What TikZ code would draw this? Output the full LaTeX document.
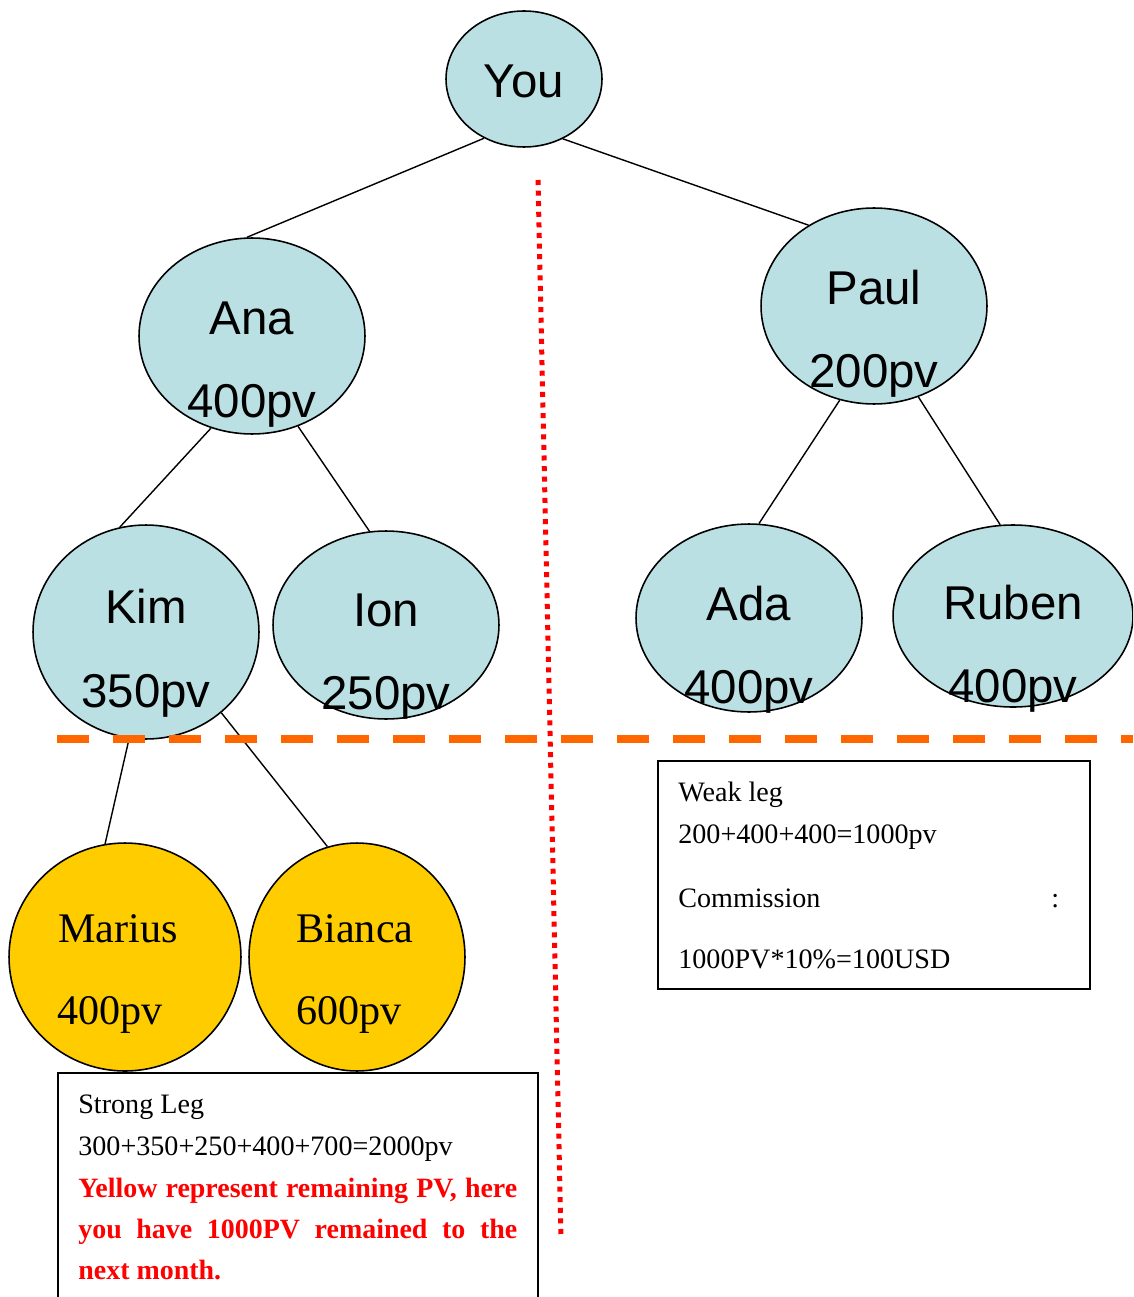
\documentclass[tikz,border=0pt]{standalone}
\usepackage{fontspec}
\setmainfont{Liberation Serif}
\newfontfamily\arialfont{Liberation Sans}
\usepackage{xcolor}
\usepackage{tikz}
\usetikzlibrary{shapes.geometric}
\definecolor{mlmblue}{HTML}{BBE0E3}
\definecolor{mlmgold}{HTML}{FFCC00}
\definecolor{mlmorange}{HTML}{FF6600}
\definecolor{mlmred}{HTML}{FF0000}
\tikzset{
  member/.style={ellipse,draw=black,line width=0.9pt,fill=mlmblue,inner sep=0pt},
  leftover/.style={member,fill=mlmgold},
  treetxt/.style={anchor=base,inner sep=0pt,font=\arialfont\fontsize{27}{32}\selectfont},
  goldtxt/.style={anchor=base west,inner sep=0pt,font=\fontsize{24}{28}\selectfont},
  boxtxt/.style={anchor=base west,inner sep=0pt,font=\fontsize{16}{19}\selectfont},
  legbox/.style={draw=black,line width=1.1pt,anchor=north west,inner sep=0pt},
  link/.style={draw=black,line width=0.8pt}
}

\begin{document}
\begin{tikzpicture}[x=0.02cm,y=-0.02cm]
\clip (0,0) rectangle (1133,1297);
% the tree
\node[member,minimum width=3.12cm,minimum height=2.72cm] (you) at (524,79) {};
\node[member,minimum width=4.52cm,minimum height=3.92cm] (ana) at (252,336) {};
\node[member,minimum width=4.52cm,minimum height=3.92cm] (paul) at (874,306) {};
\node[member,minimum width=4.52cm,minimum height=4.28cm] (kim) at (146,632) {};
\node[member,minimum width=4.52cm,minimum height=3.76cm] (ion) at (386,625) {};
\node[member,minimum width=4.52cm,minimum height=3.76cm] (ada) at (749,618) {};
\node[member,minimum width=4.8cm,minimum height=3.64cm] (ruben) at (1013,616) {};
\node[leftover,minimum width=4.64cm,minimum height=4.56cm] (marius) at (125,957) {};
\node[leftover,minimum width=4.32cm,minimum height=4.56cm] (bianca) at (357,957) {};

\draw[link] (you.236) -- (ana.93);
\draw[link] (you.303) -- (paul.129);
\draw[link] (ana.246) -- (kim.104);
\draw[link] (ana.297) -- (ion.100);
\draw[link] (paul.250) -- (ada.84);
\draw[link] (paul.296) -- (ruben.98);
\draw[link] (kim.261) -- (marius.100);
\draw[link] (kim.313) -- (bianca.105);

% names and points
\node[treetxt] (youN) at (524,98) {You};
\node[treetxt] (anaN) at (252,335) {Ana};
\node[treetxt] (anaP) at (252,417) {400pv};
\node[treetxt] (paulN) at (874,304) {Paul};
\node[treetxt] (paulP) at (874,387) {200pv};
\node[treetxt] (kimN) at (146,623) {Kim};
\node[treetxt] (kimP) at (146,707) {350pv};
\node[treetxt] (ionN) at (386,626) {Ion};
\node[treetxt] (ionP) at (386,709) {250pv};
\node[treetxt] (adaN) at (749,620) {Ada};
\node[treetxt] (adaP) at (749,703) {400pv};
\node[treetxt] (rubenN) at (1013,619) {Ruben};
\node[treetxt] (rubenP) at (1013,702) {400pv};
\node[goldtxt] (mariusN) at (58,942) {Marius};
\node[goldtxt] (mariusP) at (57,1024) {400pv};
\node[goldtxt] (biancaN) at (296,942) {Bianca};
\node[goldtxt] (biancaP) at (296,1024) {600pv};

% the two legs
\node[legbox,minimum width=8.64cm,minimum height=4.56cm] (weak) at (657,760) {};
\node[boxtxt] (weakT) at (678,801) {Weak leg};
\node[boxtxt] (weakSum) at (678,843) {200+400+400=1000pv};
\node[boxtxt] (weakCom) at (678,907) {\hbox to 7.62cm{Commission\hfill:}};
\node[boxtxt] (weakPay) at (678,968) {1000PV*10\%=100USD};

\node[legbox,fill=white,minimum width=9.6cm,minimum height=5cm] (strong) at (57,1072) {};
\node[boxtxt] (strongT) at (78,1113) {Strong Leg};
\node[boxtxt] (strongSum) at (78,1155) {300+350+250+400+700=2000pv};
\node[boxtxt,text width=8.78cm,align=justify,text=mlmred,
      font=\bfseries\fontsize{15.9}{23.6}\selectfont] (strongNote) at (78,1197)
  {Yellow represent remaining PV, here\linebreak you have 1000PV remained to the\linebreak next month.};

% dividers
\draw[mlmorange,line width=0.17cm,dash pattern=on 0.64cm off 0.48cm] (57,739) -- (1133,739);
\draw[mlmred,line width=0.1cm,dash pattern=on 0.1cm off 0.112cm] (538,180) -- (561,1238);
\end{tikzpicture}
\end{document}
